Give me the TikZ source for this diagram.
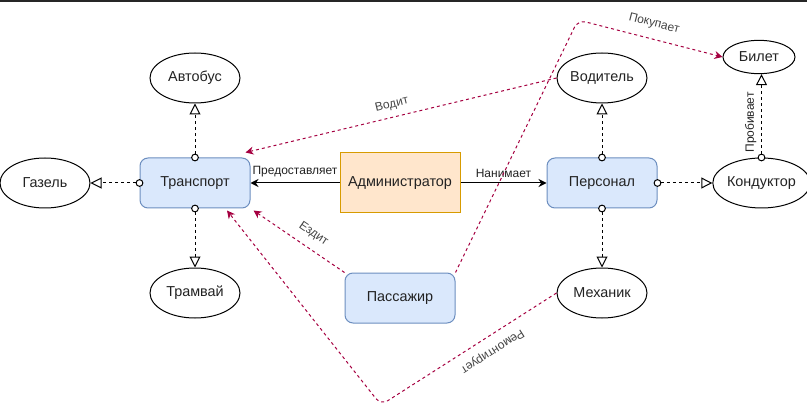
\documentclass[tikz,border=0pt]{standalone}
\usepackage{fontspec}
\setmainfont{Liberation Sans}
\usetikzlibrary{arrows.meta,calc,shapes.geometric}
\definecolor{crim}{HTML}{A50040}
\definecolor{bluefill}{HTML}{DAE8FC}
\definecolor{blueline}{HTML}{6C8EBF}
\definecolor{orfill}{HTML}{FFE6CC}
\definecolor{orline}{HTML}{D79B00}
\definecolor{txt}{HTML}{222222}
\definecolor{rtxt}{HTML}{444444}
\begin{document}
\begin{tikzpicture}[x=0.75pt,y=-0.75pt,
 every node/.style={font=\fontsize{10.8pt}{13pt}\selectfont, text=txt},
 ent/.style={ellipse, draw=black, line width=0.75pt, minimum width=67.5pt, minimum height=37.5pt, inner sep=0pt, fill=white},
 cls/.style={rectangle, rounded corners=6pt, draw=blueline, fill=bluefill, line width=0.75pt, minimum width=82.5pt, minimum height=37.5pt, inner sep=0pt},
 admbox/.style={rectangle, draw=orline, fill=orfill, line width=0.75pt, minimum width=90pt, minimum height=45pt, inner sep=0pt},
 inh/.style={draw=black, line width=0.75pt, dash pattern=on 2.25pt off 2.25pt, shorten <=-2.9pt,
   {Circle[open,fill=white,length=5.8pt,width=5.8pt]}-{Triangle[open,fill=white,length=8.25pt,width=8.25pt]}},
 solidarr/.style={draw=black, line width=0.75pt, -{Stealth[length=6pt,width=6pt]}},
 rel/.style={draw=crim, line width=0.75pt, dash pattern=on 2.25pt off 2.25pt, rounded corners=6pt, -{Stealth[length=6pt,width=6pt]}},
 lbl/.style={font=\fontsize{9pt}{11pt}\selectfont, text=txt, inner sep=1pt},
 rlbl/.style={font=\fontsize{9pt}{11pt}\selectfont, text=rtxt, inner sep=1pt},
]
\useasboundingbox (0,0) rectangle (807,417);
\fill[black!85] (0,0) rectangle (807,2);

% nodes
\node[cls] (trans) at (195,183) {Транспорт};
\node[admbox] (admin) at (400,183) {Администратор};
\node[cls] (pers) at (602,183) {Персонал};
\node[cls] (pass) at (400,298) {Пассажир};
\node[ent] (bus) at (195,78) {Автобус};
\node[ent] (gaz) at (45,183) {Газель};
\node[ent] (tram) at (195,293) {Трамвай};
\node[ent] (driver) at (602,78) {Водитель};
\node[ent, minimum width=54pt, minimum height=25pt] (ticket) at (759,57) {Билет};
\node[ent] (cond) at (761.5,183) {Кондуктор};
\node[ent] (mech) at (602,293) {Механик};

\coordinate (wpbuy) at (578,20);
\coordinate (wprep) at (381,405);

% inheritance-like connectors
\draw[inh] (trans.north) -- (bus.south);
\draw[inh] (trans.west) -- (gaz.east);
\draw[inh] (trans.south) -- (tram.north);
\draw[inh] (pers.north) -- (driver.south);
\draw[inh] (pers.south) -- (mech.north);
\draw[inh] (pers.east) -- (cond.west);
\draw[inh] (cond.north) -- node[lbl, sloped, above=2.5pt, pos=0.42] {Пробивает} (cond.north |- ticket.south);

% solid connectors
\draw[solidarr] (admin.west) -- node[lbl, above=3pt, pos=0.5] {Предоставляет} (trans.east);
\draw[solidarr] (admin.east) -- node[lbl, above=3pt, pos=0.5] {Нанимает} (pers.west);

% crimson relations
\draw[rel] (driver.west) -- node[rlbl, sloped, above=4pt, pos=0.52] {Водит} ($(trans.north east)+(-5,-5)$);
\draw[rel] (pass.north west) -- node[rlbl, sloped, above=5.5pt, pos=0.43] {Ездит} ($(trans.south east)+(3,2)$);
\draw[rel] (pass.north east) -- (wpbuy) -- node[rlbl, sloped, above=6pt, pos=0.5] {Покупает} (ticket.west);
\draw[rel] (mech.west) -- node[rlbl, sloped, above=5.5pt, allow upside down, pos=0.41] {Ремонтирует} (wprep) -- ($(trans.south)+(32,2)$);
\end{tikzpicture}
\end{document}
